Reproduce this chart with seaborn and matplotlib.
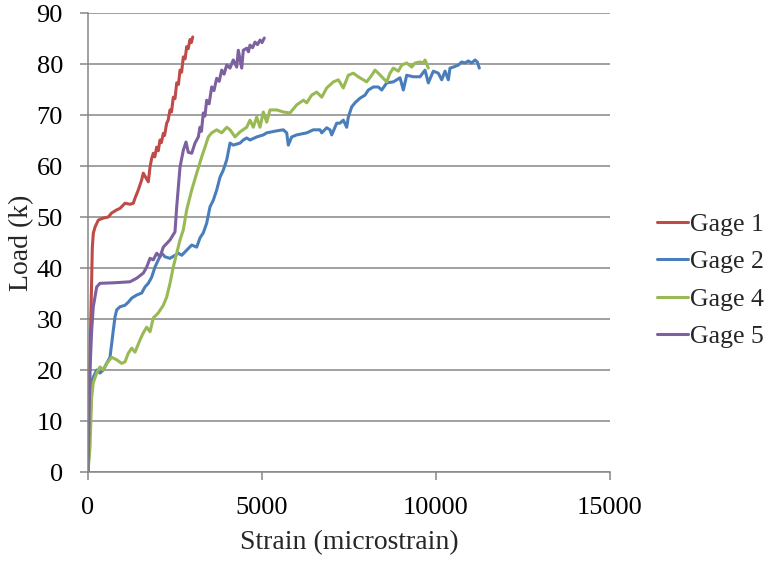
import pandas as pd
import matplotlib
matplotlib.use("Agg")
import matplotlib.pyplot as plt
import seaborn as sns

# Style
sns.set_theme(style="white")
plt.rcParams['font.family'] = ['Liberation Serif', 'DejaVu Serif']

# Data (strain in microstrain, load in kips)
gage1_strain = [0, 30, 60, 80, 100, 115, 124, 152, 201, 296, 440, 583, 681, 825, 920,
                1063, 1207, 1302, 1351, 1445, 1543, 1589, 1733, 1782, 1830, 1876, 1920,
                1974, 2020, 2069, 2110, 2164, 2200, 2261, 2300, 2356, 2400, 2451, 2500,
                2549, 2600, 2644, 2690, 2739, 2790, 2836, 2880, 2931, 2970, 3009]
gage1_load = [0, 12, 24, 30, 36, 41, 44, 46.8, 48, 49.4, 49.8, 50, 50.8, 51.4, 51.7,
              52.7, 52.5, 52.7, 53.7, 55.3, 57.3, 58.6, 56.9, 59.8, 61.5, 62.5, 61.8,
              63.7, 63.0, 65.1, 64.6, 66.4, 66.0, 68.4, 68.9, 71, 70.6, 73.5, 73.2,
              76.3, 76.0, 78.8, 78.4, 81.4, 81.0, 83.4, 83.0, 84.8, 84.2, 85.3]

gage2_strain = [0, 60, 100, 115, 152, 250, 345, 440, 537, 632, 681, 727, 776, 825, 920,
                1063, 1158, 1256, 1399, 1543, 1638, 1733, 1830, 1925, 2020, 2118, 2213,
                2356, 2500, 2595, 2693, 2836, 2980, 3124, 3218, 3313, 3411, 3506, 3601,
                3698, 3793, 3888, 3986, 4081, 4175, 4368, 4463, 4560, 4655, 4848, 5038,
                5135, 5423, 5612, 5710, 5756, 5853, 5997, 6284, 6474, 6667, 6716, 6859,
                6954, 7003, 7147, 7241, 7336, 7434, 7480, 7578, 7672, 7816, 7960, 8055,
                8199, 8342, 8440, 8583, 8773, 8966, 9061, 9158, 9348, 9540, 9684, 9779,
                9923, 10066, 10164, 10259, 10354, 10402, 10497, 10641, 10739, 10833,
                10928, 11026, 11121, 11187, 11244]
gage2_load = [0, 10, 16, 18, 18.6, 20, 19.4, 20, 21.3, 22.5, 25.2, 27.8, 30.4, 31.8, 32.4,
              32.7, 33.3, 34.1, 34.7, 35.1, 36.3, 37, 38.2, 40.2, 41.6, 42.9, 42.2,
              41.9, 42.5, 42.9, 42.5, 43.5, 44.5, 44.1, 45.9, 46.9, 48.8, 52, 53.3,
              55.3, 57.8, 59.2, 61.2, 64.5, 64.1, 64.5, 65.1, 65.5, 65.1, 65.7, 66.1,
              66.5, 66.9, 67.1, 66.5, 64.1, 65.7, 66.1, 66.5, 67.1, 67.1, 66.5, 67.5,
              67.1, 66.1, 68.4, 68.4, 69, 67.6, 69.6, 71.6, 72.4, 73.3, 73.9, 74.9,
              75.5, 75.5, 74.9, 76.3, 76.5, 77.3, 74.9, 77.8, 77.5, 77.5, 78.8, 76.3,
              78.6, 78.2, 76.9, 78.6, 76.9, 79.2, 79.4, 79.8, 80.4, 80.2,
              80.6, 80.2, 80.8, 80.4, 79.2]

gage4_strain = [0, 57, 106, 152, 250, 345, 440, 537, 681, 825, 968, 1063, 1158, 1256,
                1351, 1494, 1589, 1687, 1782, 1876, 2020, 2164, 2261, 2356, 2451, 2549,
                2644, 2739, 2836, 2980, 3124, 3267, 3362, 3457, 3555, 3698, 3842, 3986,
                4081, 4224, 4368, 4560, 4655, 4750, 4848, 4943, 5038, 5135, 5230, 5423,
                5612, 5805, 5997, 6189, 6284, 6428, 6572, 6716, 6859, 7051, 7195, 7336,
                7480, 7624, 7767, 7911, 8009, 8152, 8247, 8342, 8440, 8583, 8678, 8773,
                8917, 9015, 9158, 9302, 9397, 9540, 9635, 9684, 9779]
gage4_load = [0, 4.9, 14.7, 17.5, 19.4, 20.6, 20, 21.3, 22.5, 22, 21.3, 21.6, 23.3, 24.3,
              23.5, 25.9, 27.3, 28.4, 27.5, 30.2, 31.2, 32.7, 34.3, 37, 40.2, 42.9,
              45.5, 47.5, 51.4, 55.3, 58.6, 61.8, 63.7, 65.7, 66.5, 67.1, 66.5, 67.6,
              67.1, 65.7, 66.7, 67.6, 69, 67.6, 69.6, 67.6, 70.6, 68.6, 71, 71,
              70.6, 70.4, 72, 72.9, 72.4, 73.9, 74.5, 73.5, 75.3, 76.5, 76.9, 75.3,
              77.8, 78.2, 77.5, 76.9, 76.5, 77.8, 78.8, 78.2, 77.5, 76.5, 78.2, 79.2,
              78.6, 79.8, 80.2, 79.4, 80.2, 80.4, 80.2, 80.8, 79.2]

gage5_strain = [0, 57, 106, 152, 250, 345, 727, 1207, 1399, 1589, 1687, 1782, 1876, 1974,
                2069, 2164, 2356, 2500, 2549, 2644, 2739, 2816, 2882, 2980, 3075, 3170,
                3218, 3260, 3313, 3360, 3411, 3480, 3555, 3620, 3698, 3770, 3842, 3910,
                3986, 4080, 4175, 4273, 4319, 4417, 4463, 4560, 4610, 4655, 4730, 4799,
                4870, 4943, 5000, 5066]
gage5_load = [0, 20, 27.8, 32.4, 36.3, 37, 37.1, 37.3, 38, 39, 40.2, 41.9, 41.6, 42.9,
              42.2, 44.1, 45.5, 47.1, 52, 59.8, 63.1, 64.7, 62.7, 62.5, 64.5, 65.7,
              67.6, 66.8, 70.4, 69.8, 72.9, 72.2, 75.5, 74.8, 77.2, 76.6, 78.8, 78.0,
              79.8, 79.2, 80.8, 79.4, 82.7, 79.2, 82.7, 83.1, 82.4, 83.7, 83.2, 84.3,
              83.8, 84.7, 84.2, 85.1]

series_names = ['Gage 1', 'Gage 2', 'Gage 4', 'Gage 5']
colors = ['#BE4B48', '#4A7EBB', '#98B954', '#7D60A0']
x_ticks = [0, 5000, 10000, 15000]
y_ticks = list(range(0, 100, 10))

frames = []
for name, xs, ys in zip(series_names,
                        [gage1_strain, gage2_strain, gage4_strain, gage5_strain],
                        [gage1_load, gage2_load, gage4_load, gage5_load]):
    frames.append(pd.DataFrame({'Strain': xs, 'Load': ys, 'Gage': name}))
df = pd.concat(frames, ignore_index=True)

fig = plt.figure(figsize=(7.76, 5.61), dpi=100)
ax = fig.add_axes([0.1134, 0.1586, 0.6727, 0.8182])

sns.lineplot(data=df, x='Strain', y='Load', hue='Gage', palette=colors,
             sort=False, estimator=None, linewidth=2.2, ax=ax)

ax.set_xlim(0, 15000)
ax.set_ylim(0, 90)
ax.set_xticks(x_ticks)
ax.set_yticks(y_ticks)
ax.yaxis.grid(True, color='#868686', linewidth=1.1)
ax.xaxis.grid(False)
for side in ['top', 'right']:
    ax.spines[side].set_visible(False)
for side in ['left', 'bottom']:
    ax.spines[side].set_color('#868686')
    ax.spines[side].set_linewidth(1.1)
ax.tick_params(axis='both', which='major', direction='out', length=6, width=1.1,
               color='#868686', labelsize=19, pad=12, labelcolor='black')
ax.tick_params(axis='x', bottom=True)
ax.tick_params(axis='y', left=True)

ax.set_xlabel('Strain (microstrain)', fontsize=20, labelpad=8)
ax.set_ylabel('Load (k)', fontsize=20, labelpad=2)

ax.get_legend().remove()
handles, labels = ax.get_legend_handles_labels()
fig.legend(handles, labels, loc='center left', bbox_to_anchor=(0.847, 0.5),
           frameon=False, fontsize=18.5, handlelength=1.2, handletextpad=0.08,
           labelspacing=0.55, borderpad=0, borderaxespad=0)

plt.savefig('out.png', dpi=100)
plt.close()
